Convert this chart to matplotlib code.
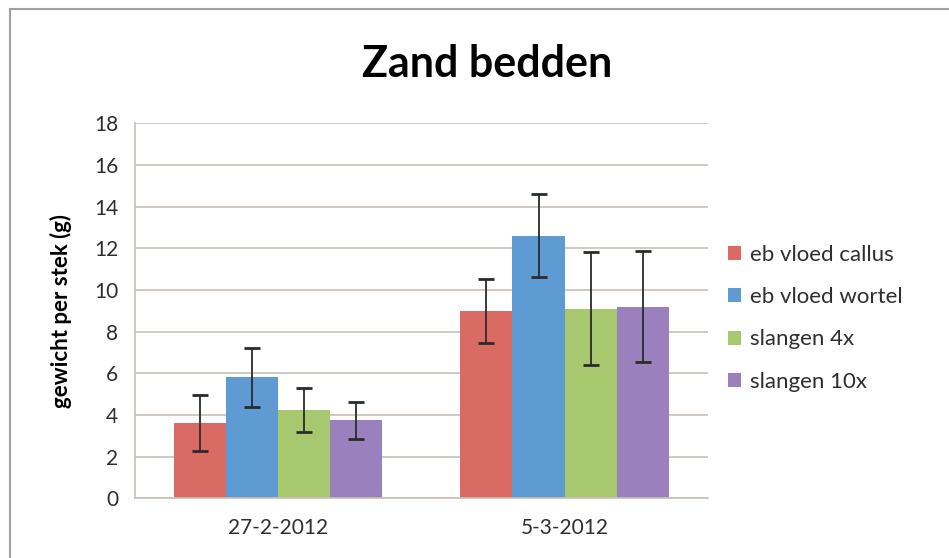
import matplotlib
matplotlib.use("Agg")
import matplotlib.pyplot as plt
from matplotlib.lines import Line2D
import numpy as np

plt.rcParams['font.family'] = ['Lato', 'DejaVu Sans']

# data
dates = ['27-2-2012', '5-3-2012']
series = ['eb vloed callus', 'eb vloed wortel', 'slangen 4x', 'slangen 10x']
callus = [3.6, 9.0]
wortel = [5.8, 12.6]
slang4 = [4.25, 9.1]
slang10 = [3.75, 9.2]
err_callus = [1.35, 1.55]
err_wortel = [1.4, 2.0]
err_slang4 = [1.05, 2.7]
err_slang10 = [0.88, 2.65]

colors = ['#d96a64', '#5e9bd3', '#a8c870', '#9b80be']

fig = plt.figure(figsize=(9.49, 5.58), dpi=100)
ax = fig.add_axes([0.142, 0.107, 0.604, 0.672])

x = np.arange(len(dates))
w = 0.182
vals = [callus, wortel, slang4, slang10]
errs = [err_callus, err_wortel, err_slang4, err_slang10]
for i, (v, e, c, name) in enumerate(zip(vals, errs, colors, series)):
    pos = x + (i - 1.5) * w
    ax.bar(pos, v, width=w, color=c, label=name, zorder=2)
    ax.errorbar(pos, v, yerr=e, fmt='none', ecolor='#2a2a2a', elinewidth=1.3,
                capsize=6, capthick=2, zorder=3)

ax.set_xlim(-0.5, 1.5)
ax.set_ylim(0, 18)
ax.set_yticks(range(0, 19, 2))
ax.set_xticks(x)
ax.set_xticklabels(dates)
ax.tick_params(axis='both', length=0, labelsize=15, colors='#2e2e2e', pad=12)
ax.tick_params(axis='x', pad=14)
ax.yaxis.grid(True, color='#c8bfb8', linewidth=1.2, zorder=0)
ax.set_axisbelow(True)
for s in ['top', 'right']:
    ax.spines[s].set_visible(False)
for s in ['left', 'bottom']:
    ax.spines[s].set_color('#c8bfb8')
    ax.spines[s].set_linewidth(1.2)

ax.set_ylabel('gewicht per stek (g)', fontsize=16, fontweight='bold', labelpad=16)
fig.text(0.513, 0.885, 'Zand bedden', ha='center', va='center',
         fontsize=31, fontweight='bold')

ax.legend(loc='center left', bbox_to_anchor=(1.0, 0.48), frameon=False,
          fontsize=16, handlelength=0.6, handleheight=0.6, handletextpad=0.4,
          labelspacing=1.0, labelcolor='#2e2e2e')

# chart frame (top and left edges visible)
fig.add_artist(Line2D([0.011, 1.0], [0.983, 0.983], color='#a0a0a0', lw=1.5))
fig.add_artist(Line2D([0.011, 0.011], [0.0, 0.983], color='#a0a0a0', lw=1.5))

fig.savefig('out.png', dpi=100)
